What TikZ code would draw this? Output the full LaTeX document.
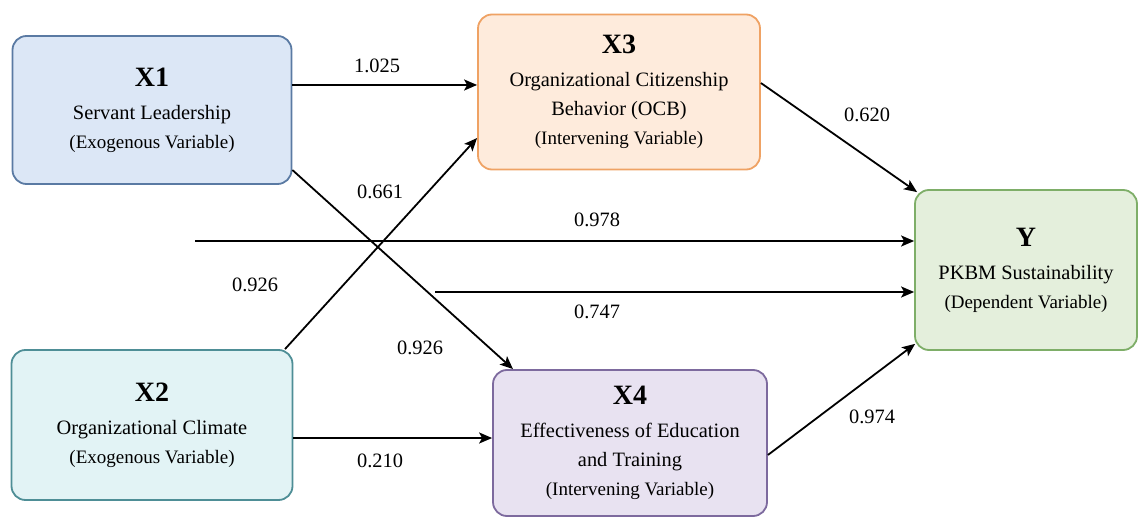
\documentclass[tikz,border=0pt]{standalone}
\usepackage{fontspec}
\setmainfont{Liberation Serif}
\usetikzlibrary{arrows.meta}

\definecolor{xonefill}{HTML}{DCE7F6}
\definecolor{xonedraw}{HTML}{5A7AA3}
\definecolor{xtwofill}{HTML}{E2F3F5}
\definecolor{xtwodraw}{HTML}{4E8E96}
\definecolor{xthreefill}{HTML}{FEEBDC}
\definecolor{xthreedraw}{HTML}{EFA264}
\definecolor{xfourfill}{HTML}{E8E2F1}
\definecolor{xfourdraw}{HTML}{7D6A9E}
\definecolor{yfill}{HTML}{E4EFDC}
\definecolor{ydraw}{HTML}{7EAE68}

\newcommand{\vartitle}[1]{{\fontsize{14}{16}\bfseries\selectfont #1}\\[2pt]}
\newcommand{\vartype}[1]{{\fontsize{9.5}{12}\selectfont #1}}

\tikzset{
  varbox/.style={draw, rounded corners=7pt, line width=0.9pt, align=center, inner sep=0pt,
                 font=\fontsize{10.2}{14.5}\selectfont},
  arr/.style={-{Stealth[length=6.5pt,width=5.5pt,inset=1.5pt]}, line width=0.9pt},
  coef/.style={font=\fontsize{10.2}{13}\selectfont}
}

\begin{document}
\begin{tikzpicture}[x=0.5pt,y=-0.5pt]

   \useasboundingbox (0,0) rectangle (1139,518);

   \node[varbox, fill=xonefill, draw=xonedraw, minimum width=139.5pt, minimum height=74pt]
      (X1) at (152,110) {\vartitle{X1}Servant Leadership\\ \vartype{(Exogenous Variable)}};
   \node[varbox, fill=xtwofill, draw=xtwodraw, minimum width=140.5pt, minimum height=75pt]
      (X2) at (152,425) {\vartitle{X2}Organizational Climate\\ \vartype{(Exogenous Variable)}};
   \node[varbox, fill=xthreefill, draw=xthreedraw, minimum width=141pt, minimum height=77.5pt]
      (X3) at (619,92) {\vartitle{X3}Organizational Citizenship\\ Behavior (OCB)\\ \vartype{(Intervening Variable)}};
   \node[varbox, fill=xfourfill, draw=xfourdraw, minimum width=137pt, minimum height=73pt]
      (X4) at (630,443) {\vartitle{X4}Effectiveness of Education\\ and Training\\ \vartype{(Intervening Variable)}};
   \node[varbox, fill=yfill, draw=ydraw, minimum width=111pt, minimum height=80pt]
      (Y) at (1026,270) {\vartitle{Y}PKBM Sustainability\\ \vartype{(Dependent Variable)}};

   % free starts of the two lines into Y
   \coordinate (s1) at (195,241);
   \coordinate (s2) at (435,292);

   \draw[arr] (X1.east |- 0,85) -- (X3.west |- 0,85);
   \draw[arr] (X1.east |- 0,170) -- (513,0 |- X4.north);
   \draw[arr] (285,0 |- X2.north) -- (X3.west |- 0,138);
   \draw[arr] (X2.east |- 0,438) -- (X4.west |- 0,438);
   \draw[arr] (s1) -- (Y.west |- s1);
   \draw[arr] (s2) -- (Y.west |- s2);
   \draw[arr] (X3.east |- 0,83) -- ([shift={(3,3)}]Y.north west);
   \draw[arr] (X4.east |- 0,455) -- ([shift={(1,-7)}]Y.south west);

   \node[coef] (c13) at (377,66) {1.025};
   \node[coef] (c14) at (380,192) {0.661};
   \node[coef] (c1y) at (597,220) {0.978};
   \node[coef] (c23) at (255,285) {0.926};
   \node[coef] (c2y) at (597,312) {0.747};
   \node[coef] (c24) at (420,348) {0.926};
   \node[coef] (c2x) at (380,461) {0.210};
   \node[coef] (c3y) at (867,115) {0.620};
   \node[coef] (c4y) at (872,417) {0.974};

\end{tikzpicture}
\end{document}
